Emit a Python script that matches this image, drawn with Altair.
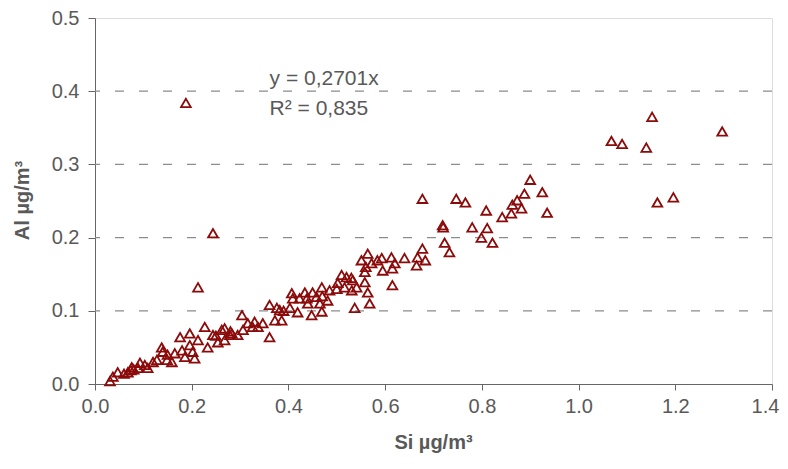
import altair as alt
import pandas as pd

si = [0.031, 0.037, 0.047, 0.060, 0.068, 0.076, 0.074, 0.093, 0.089, 0.103,
      0.109, 0.128, 0.138, 0.140, 0.149, 0.159, 0.165, 0.176, 0.180, 0.186,
      0.196, 0.196, 0.206, 0.202, 0.213, 0.213, 0.227, 0.233, 0.244, 0.254,
      0.262, 0.268, 0.268, 0.279, 0.283, 0.295, 0.304, 0.306, 0.316, 0.326,
      0.337, 0.347, 0.361, 0.361, 0.372, 0.376, 0.382, 0.386, 0.403, 0.407,
      0.409, 0.419, 0.423, 0.434, 0.438, 0.448, 0.450, 0.458, 0.465, 0.469,
      0.469, 0.481, 0.485, 0.502, 0.510, 0.516, 0.520, 0.531, 0.533, 0.537,
      0.541, 0.551, 0.558, 0.558, 0.564, 0.564, 0.568, 0.572, 0.584, 0.593,
      0.595, 0.613, 0.615, 0.615, 0.640, 0.665, 0.667, 0.677, 0.683, 0.677,
      0.719, 0.723, 0.733, 0.747, 0.766, 0.780, 0.799, 0.809, 0.811, 0.822,
      0.842, 0.861, 0.863, 0.873, 0.882, 0.888, 0.900, 0.925, 0.935, 1.068,
      1.090, 1.140, 1.152, 1.163, 1.196, 1.297, 0.188, 0.244, 0.720, 0.440,
      0.470, 0.500, 0.530, 0.560, 0.390, 0.330, 0.280, 0.250, 0.150, 0.120,
      0.080, 0.620]
al = [0.004, 0.010, 0.016, 0.014, 0.016, 0.023, 0.019, 0.029, 0.022, 0.026,
      0.022, 0.033, 0.050, 0.044, 0.033, 0.030, 0.042, 0.064, 0.046, 0.037,
      0.069, 0.053, 0.035, 0.044, 0.060, 0.132, 0.078, 0.050, 0.067, 0.057,
      0.074, 0.076, 0.060, 0.067, 0.069, 0.067, 0.094, 0.074, 0.083, 0.078,
      0.078, 0.083, 0.108, 0.064, 0.087, 0.104, 0.101, 0.087, 0.104, 0.124,
      0.117, 0.098, 0.117, 0.125, 0.117, 0.094, 0.125, 0.119, 0.110, 0.132,
      0.099, 0.114, 0.128, 0.138, 0.149, 0.132, 0.146, 0.128, 0.142, 0.104,
      0.132, 0.169, 0.153, 0.139, 0.178, 0.125, 0.110, 0.165, 0.169, 0.172,
      0.155, 0.173, 0.158, 0.135, 0.172, 0.162, 0.173, 0.185, 0.169, 0.253,
      0.217, 0.193, 0.180, 0.253, 0.248, 0.214, 0.200, 0.237, 0.213, 0.193,
      0.228, 0.233, 0.245, 0.251, 0.240, 0.260, 0.279, 0.262, 0.234, 0.332,
      0.328, 0.323, 0.365, 0.248, 0.255, 0.345, 0.384, 0.206, 0.214, 0.110,
      0.120, 0.130, 0.145, 0.160, 0.100, 0.085, 0.072, 0.066, 0.040, 0.030,
      0.020, 0.165]

ann_text = ["y = 0,2701x", "R\u00b2 = 0,835"]
ann_x = [0.361, 0.361]
ann_y = [0.417, 0.376]

x_ticks = [0.0, 0.2, 0.4, 0.6, 0.8, 1.0, 1.2, 1.4]
y_ticks = [0.0, 0.1, 0.2, 0.3, 0.4, 0.5]
grid_vals = [0.1, 0.2, 0.3, 0.4]

df = pd.DataFrame({"si": si, "al": al})
ann = pd.DataFrame({"t": ann_text, "x": ann_x, "y": ann_y})

FONT = "Liberation Sans"
TXT = "#595959"

xs = alt.Scale(domain=[0, 1.4], nice=False, zero=False)
ys = alt.Scale(domain=[0, 0.5], nice=False, zero=False)

grid = alt.Chart(pd.DataFrame({"g": grid_vals})).mark_rule(
    color="#8c8c8c", strokeDash=[9, 15], strokeWidth=1.3
).encode(y=alt.Y("g:Q", scale=ys))

pts = alt.Chart(df).mark_point(
    shape="triangle-up", filled=False, color="#8b0a0a", size=95, strokeWidth=1.8, opacity=1
).encode(
    x=alt.X("si:Q", scale=xs, axis=alt.Axis(
        values=x_ticks, format=".1f", title="Si \u00b5g/m\u00b3", grid=False,
        domainColor="#666666", tickColor="#666666", tickSize=6, labelPadding=6,
        labelFontSize=20, labelColor=TXT, labelFont=FONT,
        labelOffset={"condition": {"test": "datum.value >= 1.39", "value": -7}, "value": 0},
        titleFontSize=20, titleColor=TXT, titleFont=FONT, titleFontWeight="bold",
        titleX=338, titleY=58, titleBaseline="middle", titleAnchor="middle",
        labelFlush=False)),
    y=alt.Y("al:Q", scale=ys, axis=alt.Axis(
        values=y_ticks, format=".1f", title="Al \u00b5g/m\u00b3", grid=False,
        domainColor="#666666", tickColor="#666666", tickSize=7, labelPadding=9,
        labelFontSize=20, labelColor=TXT, labelFont=FONT,
        titleFontSize=20, titleColor=TXT, titleFont=FONT, titleFontWeight="bold",
        titleX=-73, titleY=182, titleBaseline="middle", titleAnchor="middle",
        titleAngle=-90, labelFlush=False)),
)

txt = alt.Chart(ann).mark_text(
    align="left", baseline="middle", fontSize=21, font=FONT, color=TXT
).encode(x=alt.X("x:Q", scale=xs), y=alt.Y("y:Q", scale=ys), text="t:N")

chart = alt.layer(grid, pts, txt).properties(
    width=677, height=366,
    autosize=alt.AutoSizeParams(type="none"),
    padding={"left": 87, "top": 10, "right": 8, "bottom": 70},
).configure_view(stroke="#999999", strokeWidth=1.3).configure(background="white")

chart.save("out.html", embed_options={"renderer": "svg", "actions": False})
